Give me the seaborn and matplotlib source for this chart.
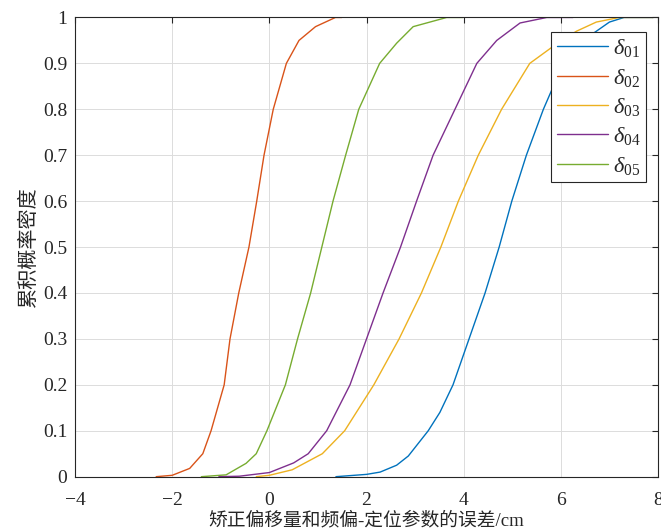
import matplotlib
matplotlib.use('Agg')
import matplotlib.pyplot as plt
import seaborn as sns
import pandas as pd

# curve points (x error in cm, cumulative probability)
d01_x = [1.37, 2.0, 2.28, 2.62, 2.86, 3.27, 3.51, 3.78, 4.11, 4.44, 4.73, 4.99, 5.29, 5.64, 6.05, 6.45, 6.73, 7.0, 7.3, 7.9]
d01_y = [0, 0.005, 0.01, 0.025, 0.045, 0.1, 0.14, 0.2, 0.3, 0.4, 0.5, 0.6, 0.7, 0.8, 0.9, 0.95, 0.97, 0.99, 1.0, 1.0]

d02_x = [-2.33, -2.0, -1.64, -1.37, -1.20, -0.93, -0.81, -0.63, -0.42, -0.26, -0.11, 0.08, 0.35, 0.61, 0.95, 1.36, 1.49]
d02_y = [0, 0.003, 0.018, 0.05, 0.1, 0.2, 0.3, 0.4, 0.5, 0.6, 0.7, 0.8, 0.9, 0.95, 0.98, 1.0, 1.0]

d03_x = [-0.27, 0.0, 0.47, 1.09, 1.55, 2.15, 2.67, 3.13, 3.53, 3.89, 4.30, 4.78, 5.36, 5.84, 6.32, 6.73, 7.2, 7.9]
d03_y = [0, 0.003, 0.015, 0.05, 0.1, 0.2, 0.3, 0.4, 0.5, 0.6, 0.7, 0.8, 0.9, 0.937, 0.97, 0.99, 1.0, 1.0]

d04_x = [-1.04, -0.62, 0.0, 0.5, 0.8, 1.18, 1.66, 2.0, 2.34, 2.70, 3.03, 3.37, 3.82, 4.27, 4.68, 5.16, 5.71, 6.25]
d04_y = [0, 0.001, 0.009, 0.03, 0.05, 0.1, 0.2, 0.3, 0.4, 0.5, 0.6, 0.7, 0.8, 0.9, 0.95, 0.988, 1.0, 1.0]

d05_x = [-1.40, -0.89, -0.48, -0.27, -0.05, 0.33, 0.58, 0.85, 1.08, 1.31, 1.57, 1.84, 2.27, 2.62, 2.96, 3.65, 3.98]
d05_y = [0, 0.004, 0.029, 0.05, 0.1, 0.2, 0.3, 0.4, 0.5, 0.6, 0.7, 0.8, 0.9, 0.944, 0.98, 1.0, 1.0]

labels = [r'$\delta_{01}$', r'$\delta_{02}$', r'$\delta_{03}$', r'$\delta_{04}$', r'$\delta_{05}$']
colors = ['#0072BD', '#D95319', '#EDB120', '#7E2F8E', '#77AC30']

frames = []
for lab, xs, ys in zip(labels, [d01_x, d02_x, d03_x, d04_x, d05_x], [d01_y, d02_y, d03_y, d04_y, d05_y]):
    frames.append(pd.DataFrame({'x': xs, 'y': ys, 'series': lab}))
df = pd.concat(frames, ignore_index=True)

sns.set_style('white')
plt.rcParams['font.family'] = ['Liberation Serif', 'Noto Sans CJK SC']
plt.rcParams['mathtext.fontset'] = 'custom'
plt.rcParams['mathtext.rm'] = 'Liberation Serif'
plt.rcParams['mathtext.it'] = 'Liberation Serif:italic'
plt.rcParams['axes.unicode_minus'] = True

fig = plt.figure(figsize=(6.61, 5.31), dpi=100)
ax = fig.add_axes([0.1135, 0.1023, 0.882, 0.8648])

sns.lineplot(data=df, x='x', y='y', hue='series', palette=colors, estimator=None,
             sort=True, linewidth=1.0, ax=ax)

ax.set_xlim(-4, 8)
ax.set_ylim(0, 1)
ax.set_xticks([-4, -2, 0, 2, 4, 6, 8])
ax.set_xticklabels(['\u22124', '\u22122', '0', '2', '4', '6', '8'])
yt = [0, 0.1, 0.2, 0.3, 0.4, 0.5, 0.6, 0.7, 0.8, 0.9, 1]
ax.set_yticks(yt)
ax.set_yticklabels(['0', '0.1', '0.2', '0.3', '0.4', '0.5', '0.6', '0.7', '0.8', '0.9', '1'])

ax.grid(True, color='#dcdcdc', linewidth=0.7)
ax.tick_params(direction='in', length=4, width=0.8, top=True, right=True,
               labelsize=14, colors='#262626')
ax.tick_params(axis='x', pad=11)
ax.tick_params(axis='y', pad=5.5)
for s in ax.spines.values():
    s.set_color('#262626')
    s.set_linewidth(0.8)

ax.set_xlabel('矫正偏移量和频偏-定位参数的误差/cm', fontsize=13.5, labelpad=2, color='#262626')
ax.set_ylabel('累积概率密度', fontsize=14.5, labelpad=3, color='#262626')

ax.legend(loc='upper right', bbox_to_anchor=(0.979, 0.969), borderaxespad=0,
          fontsize=16, fancybox=False, framealpha=1, edgecolor='#262626',
          handlelength=2.3, handletextpad=0.2, labelspacing=0.33, borderpad=0.25,
          title=None)
ax.get_legend().get_frame().set_linewidth(0.8)

fig.savefig('out.png', dpi=100)
